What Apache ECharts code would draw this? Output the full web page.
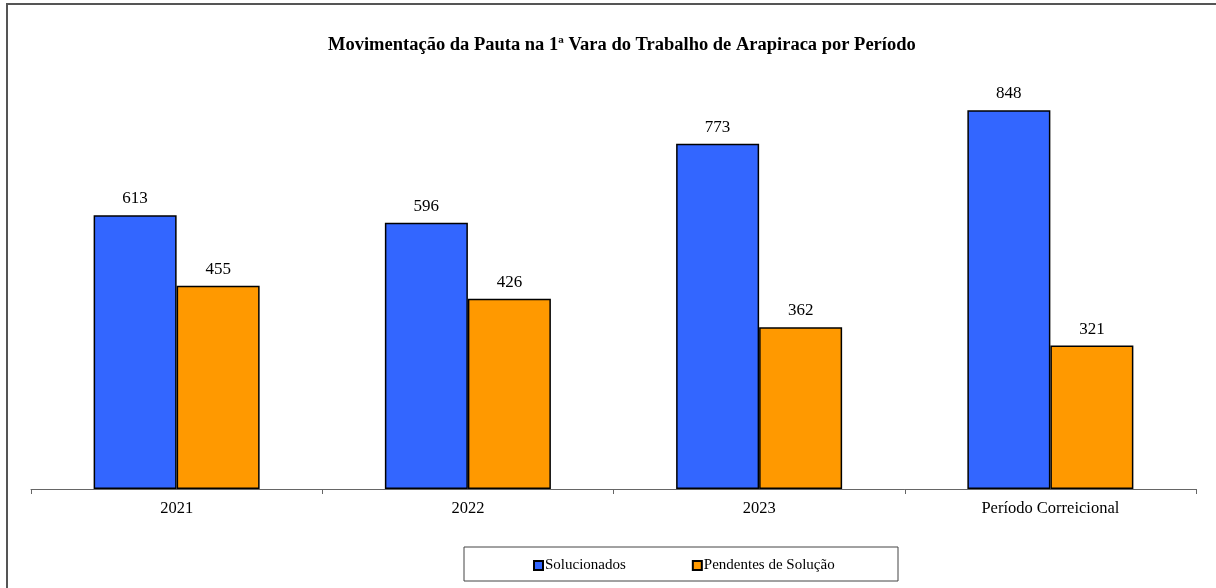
<!DOCTYPE html>
<html>
<head>
<meta charset="utf-8">
<script src="https://cdn.jsdelivr.net/npm/echarts@6/dist/echarts.min.js"></script>
<style>
  html, body { margin: 0; padding: 0; background: #fff; }
  #chart { width: 1216px; height: 588px; }
</style>
</head>
<body>
<div id="chart"></div>
<script>
const categories = ['2021', '2022', '2023', 'Período Correicional'];
const solucionados = [613, 596, 773, 848];
const pendentes = [455, 426, 362, 321];
const seriesNames = ['Solucionados', 'Pendentes de Solução'];

const serif = '"Liberation Serif", "DejaVu Serif", serif';
const chart = echarts.init(document.getElementById('chart'));

const barLabel = {
  show: true,
  position: 'top',
  distance: 8,
  color: '#000',
  fontFamily: serif,
  fontSize: 17
};

const option = {
  animation: false,
  title: {
    text: 'Movimentação da Pauta na 1ª Vara do Trabalho de Arapiraca por Período',
    left: 328,
    top: 36,
    padding: 0,
    textStyle: { fontFamily: serif, fontSize: 18.5, fontWeight: 'bold', color: '#000' }
  },
  graphic: [
    {
      type: 'rect',
      shape: { x: 7, y: 4, width: 1400, height: 800 },
      style: { fill: 'none', stroke: '#555', lineWidth: 2 },
      silent: true
    },
    {
      type: 'rect',
      shape: { x: 464, y: 547, width: 434, height: 34 },
      style: { fill: '#fff', stroke: '#444', lineWidth: 1 },
      silent: true,
      z: -1
    }
  ],
  legend: {
    left: 533,
    top: 558,
    padding: 0,
    itemGap: 66,
    itemWidth: 9,
    itemHeight: 9,
    icon: 'rect',
    textStyle: { fontFamily: serif, fontSize: 15, color: '#000', padding: [0, 0, 0, -3] },
    data: seriesNames
  },
  grid: { left: 31, right: 20, top: 87, bottom: 99 },
  xAxis: {
    type: 'category',
    data: categories,
    axisLine: { lineStyle: { color: '#666', width: 1 } },
    axisTick: { show: true, length: 5, lineStyle: { color: '#666' } },
    axisLabel: { fontFamily: serif, fontSize: 16.5, color: '#000', margin: 11 }
  },
  yAxis: {
    type: 'value',
    min: 0,
    max: 900,
    show: false,
    splitLine: { show: false }
  },
  series: [
    {
      name: seriesNames[0],
      type: 'bar',
      data: solucionados,
      barGap: '0%',
      barCategoryGap: '43%',
      itemStyle: { color: '#3366FF', borderColor: '#000', borderWidth: 1.5 },
      label: barLabel
    },
    {
      name: seriesNames[1],
      type: 'bar',
      data: pendentes,
      itemStyle: { color: '#FF9900', borderColor: '#000', borderWidth: 1.5 },
      label: barLabel
    }
  ]
};

chart.setOption(option);
</script>
</body>
</html>
